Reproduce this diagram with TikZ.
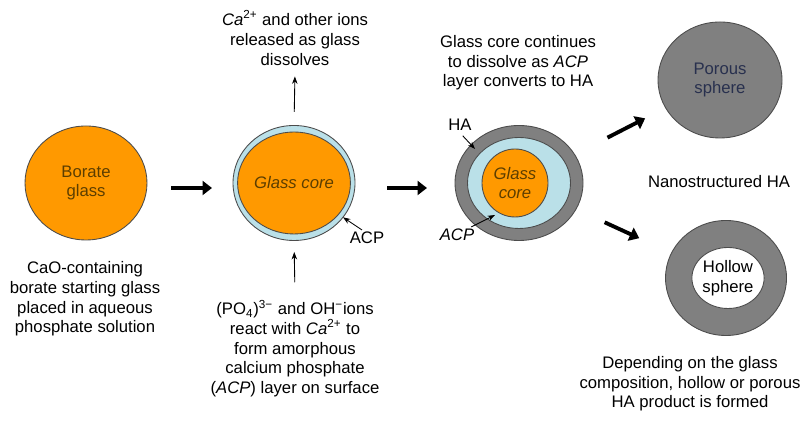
\documentclass[tikz,border=0pt]{standalone}
\usepackage{fontspec}
\setmainfont{Liberation Sans}
\usetikzlibrary{shapes.geometric,arrows.meta}

\definecolor{glassorange}{RGB}{255,153,0}
\definecolor{acpblue}{RGB}{186,224,232}
\definecolor{hagray}{RGB}{128,128,128}
\definecolor{coretext}{RGB}{92,62,0}
\definecolor{poretext}{RGB}{40,48,78}

\tikzset{
    sphere/.style={ellipse, draw=black!70, line width=0.5pt, inner sep=0pt, outer sep=0pt, align=center},
    note/.style={align=center, font=\fontsize{9.5}{11.2}\selectfont},
    tag/.style={inner sep=1pt, font=\fontsize{9.5}{11.2}\selectfont},
    bigarrow/.style={-{Triangle[length=1.9mm,width=2.8mm]}, line width=2.2pt},
    smallarrow/.style={-{Stealth[length=1.5mm,width=1.1mm]}, line width=0.5pt}
}

\begin{document}
\begin{tikzpicture}[font=\fontsize{9.5}{11.2}\selectfont]
    \useasboundingbox (0,0) rectangle (16,8.5);

    \node[sphere, fill=glassorange, text=coretext, minimum width=2.44cm, minimum height=2.28cm] (borate) at (1.72,4.84) {Borate\\glass};

    \node[sphere, fill=acpblue, minimum width=2.44cm, minimum height=2.30cm] (shell) at (5.88,4.84) {};
    \node[sphere, fill=glassorange, text=coretext, minimum width=2.16cm, minimum height=2.04cm] (core) at (shell) {\itshape Glass core};

    \node[sphere, fill=hagray, minimum width=2.56cm, minimum height=2.30cm] (hashell) at (10.38,4.84) {};
    \node[sphere, fill=acpblue, minimum width=2.06cm, minimum height=1.82cm] (acplayer) at (hashell) {};
    \node[sphere, fill=glassorange, text=coretext, minimum width=1.32cm, minimum height=1.36cm] (smallcore) at (10.30,4.84) {\itshape Glass\\\itshape core};

    \node[sphere, fill=hagray, text=poretext, minimum width=2.48cm, minimum height=2.32cm] (porous) at (14.40,6.90) {Porous\\sphere};
    \node[sphere, fill=hagray, minimum width=2.42cm, minimum height=2.30cm] (hollow) at (14.52,2.94) {};
    \node[sphere, fill=white, minimum width=1.34cm, minimum height=1.22cm] (hole) at (14.56,2.94) {Hollow\\sphere};

    \node[note] (start) at (1.70,2.52) {CaO-containing\\borate starting glass\\placed in aqueous\\phosphate solution};
    \node[note] (released) at (5.90,7.74) {\textit{Ca}\textsuperscript{2+} and other ions\\released as glass\\dissolves};
    \node[note] (react) at (5.90,1.53) {(PO\textsubscript{4})\textsuperscript{3−} and OH\textsuperscript{−}ions\\react with \textit{Ca}\textsuperscript{2+} to\\form amorphous\\calcium phosphate\\(\textit{ACP}) layer on surface};
    \node[note] (converts) at (10.36,7.24) {Glass core continues\\to dissolve as \textit{ACP}\\layer converts to HA};
    \node[note] (nano) at (14.38,4.86) {Nanostructured HA};
    \node[note] (depending) at (13.80,0.82) {Depending on the glass\\composition, hollow or porous\\HA product is formed};

    \node[tag] (acpone) at (7.34,3.74) {ACP};
    \node[tag] (halabel) at (9.20,6.00) {HA};
    \node[tag] (acptwo) at (9.14,3.80) {\itshape ACP};
    \coordinate (hatip) at (9.50,5.52);
    \coordinate (acptip) at (9.90,4.20);

    \draw[bigarrow, shorten <=0.48cm, shorten >=0.42cm] ([yshift=-1mm]borate.east) -- ([yshift=-1mm]shell.west);
    \draw[bigarrow, shorten <=0.64cm, shorten >=0.56cm] ([yshift=-1mm]shell.east) -- ([yshift=-1mm]hashell.west);
    \draw[bigarrow, shorten <=0.74cm, shorten >=0.46cm] (hashell) -- (porous);
    \draw[bigarrow, shorten <=0.63cm, shorten >=0.71cm] (hashell) -- (hollow);

    \draw[smallarrow, shorten <=0.27cm, shorten >=0.1cm] (shell.north) -- (released.south);
    \draw[smallarrow, shorten <=0.23cm, shorten >=0.23cm] (react.north) -- (shell.south);
    \draw[smallarrow] ([xshift=-1mm]acpone.north) -- (shell.-35);
    \draw[smallarrow, shorten <=0.08cm] (halabel.south) -- (hatip);
    \draw[smallarrow] ([xshift=-1mm]acptwo.north east) -- (acptip);
\end{tikzpicture}
\end{document}
